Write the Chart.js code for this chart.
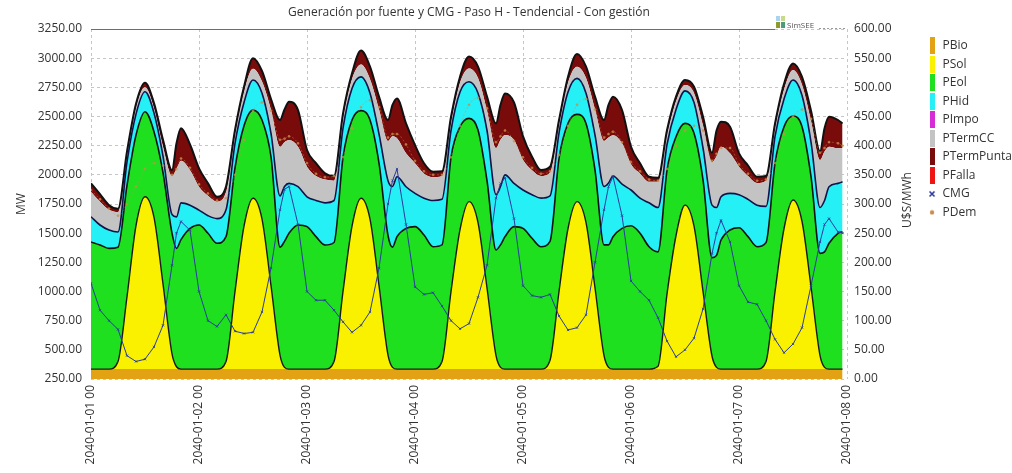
<!DOCTYPE html>
<html lang="es">
<head>
<meta charset="utf-8">
<title>Generación por fuente y CMG</title>
<script src="https://cdn.jsdelivr.net/npm/chart.js@4.4.1/dist/chart.umd.min.js"></script>
<style>
  html, body { margin: 0; padding: 0; background: #fff; }
</style>
</head>
<body>
<canvas id="chart" width="1012" height="473"></canvas>
<script>
// ── Series (MW, hours from 2040-01-01 00) ────────────────────────────────────
const TITLE = 'Generación por fuente y CMG - Paso H - Tendencial - Con gestión';

const HOURS = [
  0, 2, 4, 6, 8, 10, 12, 14, 16, 18, 19, 20, 22,
  24, 26, 28, 30, 32, 34, 36, 38, 40, 42, 43, 44, 46,
  48, 50, 52, 54, 56, 58, 60, 62, 64, 66, 67, 68, 70,
  72, 74, 76, 78, 80, 82, 84, 86, 88, 90, 91, 92, 94,
  96, 98, 100, 102, 104, 106, 108, 110, 112, 114, 115, 116, 118,
  120, 122, 124, 126, 128, 130, 132, 134, 136, 138, 139, 140, 142,
  144, 146, 148, 150, 152, 154, 156, 158, 160, 162, 163, 164, 166, 167
];

const PBIO = [
  335, 335, 335, 335, 335, 335, 335, 335, 335, 335, 335, 335, 335,
  335, 335, 335, 335, 335, 335, 335, 335, 335, 335, 335, 335, 335,
  335, 335, 335, 335, 335, 335, 335, 335, 335, 335, 335, 335, 335,
  335, 335, 335, 335, 335, 335, 335, 335, 335, 335, 335, 335, 335,
  335, 335, 335, 335, 335, 335, 335, 335, 335, 335, 335, 335, 335,
  335, 335, 335, 335, 335, 335, 335, 335, 335, 335, 335, 335, 335,
  335, 335, 335, 335, 335, 335, 335, 335, 335, 335, 335, 335, 335, 335
];

const PSOL = [
  0, 0, 0, 65, 620, 1230, 1477, 1300, 730, 130, 20, 0, 0,
  0, 0, 0, 65, 665, 1225, 1464, 1285, 715, 120, 15, 0, 0,
  0, 0, 0, 65, 665, 1225, 1464, 1285, 715, 120, 15, 0, 0,
  0, 0, 0, 65, 665, 1195, 1435, 1255, 695, 115, 15, 0, 0,
  0, 0, 0, 75, 665, 1205, 1435, 1255, 695, 115, 15, 0, 0,
  0, 0, 0, 25, 645, 1145, 1405, 1225, 665, 110, 15, 0, 0,
  0, 0, 0, 65, 665, 1205, 1449, 1265, 705, 115, 15, 0, 0, 0
];

const PEOL = [
  1089, 1064, 1035, 980, 955, 775, 729, 735, 955, 1035, 1015, 1110, 1206,
  1235, 1164, 1078, 1070, 1060, 860, 756, 850, 1105, 925, 1080, 1164, 1235,
  1221, 1135, 1064, 1020, 1150, 910, 751, 850, 1050, 1025, 1030, 1135, 1206,
  1221, 1149, 1049, 1000, 1150, 882, 714, 794, 920, 906, 1050, 1135, 1221,
  1206, 1121, 1049, 1020, 1140, 901, 748, 851, 1011, 950, 1050, 1135, 1206,
  1228, 1164, 1049, 980, 1061, 847, 701, 796, 956, 845, 960, 1106, 1192,
  1212, 1135, 1049, 1020, 1100, 872, 720, 812, 944, 877, 990, 1078, 1164, 1178
];

const PHID = [
  217, 171, 157, 130, 200, 180, 171, 160, 140, 160, 270, 315, 199,
  128, 151, 212, 230, 210, 200, 258, 230, 200, 440, 470, 428, 328,
  256, 310, 361, 360, 250, 270, 290, 230, 250, 470, 520, 514, 357,
  285, 316, 396, 390, 230, 298, 314, 316, 430, 474, 500, 530, 371,
  329, 374, 416, 390, 220, 269, 309, 259, 299, 500, 530, 520, 379,
  307, 301, 376, 380, 219, 233, 279, 264, 274, 450, 410, 371, 314,
  283, 320, 356, 310, 230, 238, 309, 268, 296, 393, 440, 485, 428, 427
];

const PIMPO = [
  0, 0, 0, 0, 0, 0, 0, 0, 0, 0, 0, 0, 0,
  0, 0, 0, 0, 0, 0, 0, 0, 0, 0, 0, 0, 0,
  0, 0, 0, 0, 0, 0, 0, 0, 0, 0, 0, 0, 0,
  0, 0, 0, 0, 0, 0, 0, 0, 0, 0, 0, 0, 0,
  0, 0, 0, 0, 0, 0, 0, 0, 0, 0, 0, 0, 0,
  0, 0, 0, 0, 0, 0, 0, 0, 0, 0, 0, 0, 0,
  0, 0, 0, 0, 0, 0, 0, 0, 0, 0, 0, 0, 0, 0
];

const PTERMCC = [
  214, 199, 173, 170, 55, 55, 38, 40, 80, 330, 410, 360, 300,
  200, 170, 145, 150, 70, 90, 97, 100, 200, 420, 380, 371, 343,
  258, 210, 200, 170, 80, 80, 105, 120, 210, 340, 430, 329, 286,
  258, 210, 200, 200, 70, 80, 114, 130, 170, 400, 400, 341, 371,
  257, 210, 190, 200, 70, 80, 100, 130, 220, 390, 390, 350, 350,
  220, 210, 180, 220, 80, 70, 50, 80, 190, 370, 440, 429, 343,
  240, 200, 190, 220, 70, 80, 85, 90, 180, 407, 420, 343, 300, 290
];

const PTERMPUNTA = [
  72, 65, 40, 30, 35, 35, 40, 45, 60, 50, 220, 280, 220,
  158, 107, 42, 50, 44, 45, 90, 90, 95, 230, 280, 329, 314,
  143, 110, 53, 40, 47, 50, 120, 107, 110, 180, 270, 342, 257,
  156, 89, 47, 40, 48, 51, 102, 97, 120, 211, 300, 357, 322,
  203, 115, 51, 50, 40, 51, 108, 97, 110, 180, 280, 330, 285,
  151, 89, 44, 35, 44, 40, 43, 55, 78, 80, 220, 215, 228,
  114, 90, 54, 40, 40, 50, 57, 70, 90, 73, 200, 257, 243, 210
];

const PFALLA = PIMPO.slice();

// U$S/MWh
const CMG = [
  164, 118, 100, 85, 40, 30, 34, 55, 92, 195, 250, 270, 255,
  150, 100, 90, 110, 82, 78, 80, 115, 190, 290, 325, 330, 265,
  150, 135, 135, 118, 98, 80, 92, 115, 190, 300, 340, 360, 265,
  158, 145, 148, 125, 100, 86, 95, 140, 195, 310, 335, 345, 275,
  160, 143, 140, 145, 108, 84, 88, 110, 200, 290, 330, 347, 280,
  168, 150, 135, 105, 65, 38, 50, 70, 120, 215, 250, 272, 235,
  160, 132, 128, 100, 68, 45, 60, 88, 160, 235, 265, 275, 252, 250
];

const PDEM = [
  1870, 1790, 1710, 1650, 1750, 1900, 2050, 2100, 2080, 2000, 2050, 2140, 2060,
  1920, 1840, 1780, 1800, 2000, 2300, 2550, 2620, 2550, 2300, 2310, 2330, 2270,
  2100, 2010, 1980, 1990, 2150, 2400, 2580, 2640, 2580, 2320, 2350, 2350, 2260,
  2120, 2030, 2000, 2000, 2150, 2420, 2600, 2660, 2570, 2280, 2330, 2380, 2290,
  2150, 2060, 2010, 2030, 2170, 2420, 2600, 2650, 2560, 2320, 2350, 2370, 2280,
  2110, 2030, 1960, 1950, 2050, 2250, 2380, 2420, 2380, 2120, 2180, 2230, 2230,
  2090, 2010, 1950, 1960, 2100, 2350, 2500, 2560, 2480, 2190, 2230, 2280, 2270, 2250
];

// ── Axis ticks ───────────────────────────────────────────────────────────────
const DAY_TICKS = [0, 24, 48, 72, 96, 120, 144, 168];
const DAY_LABELS = [
  '2040-01-01 00', '2040-01-02 00', '2040-01-03 00', '2040-01-04 00',
  '2040-01-05 00', '2040-01-06 00', '2040-01-07 00', '2040-01-08 00'
];
const MW_TICKS = [250, 500, 750, 1000, 1250, 1500, 1750, 2000, 2250, 2500, 2750, 3000, 3250];
const USD_TICKS = [0, 50, 100, 150, 200, 250, 300, 350, 400, 450, 500, 550, 600];

// ── Helpers ──────────────────────────────────────────────────────────────────
const NONE = 'rgba(0,0,0,0)';
const points = vals => HOURS.map((h, i) => ({ x: h, y: vals[i] }));

function area(label, values, color, border, width) {
  return {
    label,
    data: points(values),
    yAxisID: 'y',
    stack: 'gen',
    order: 1,
    backgroundColor: color,
    borderColor: border || NONE,
    borderWidth: width || 1,
    fill: '-1',
    pointRadius: 0,
    cubicInterpolationMode: 'monotone',
  };
}

function barMark(color) {
  const c = document.createElement('canvas');
  c.width = 5; c.height = 17;
  const g = c.getContext('2d');
  g.fillStyle = color;
  g.fillRect(0, 0, 5, 17);
  return c;
}

function crossMark(color) {
  const c = document.createElement('canvas');
  c.width = 8; c.height = 8;
  const g = c.getContext('2d');
  g.strokeStyle = color;
  g.lineWidth = 1.6;
  g.beginPath();
  g.moveTo(1.5, 1.5); g.lineTo(6.5, 6.5);
  g.moveTo(6.5, 1.5); g.lineTo(1.5, 6.5);
  g.stroke();
  return c;
}

function dotMark(color) {
  const c = document.createElement('canvas');
  c.width = 6; c.height = 6;
  const g = c.getContext('2d');
  g.fillStyle = color;
  g.beginPath();
  g.arc(3, 3, 2.2, 0, Math.PI * 2);
  g.fill();
  return c;
}

// ── Datasets ─────────────────────────────────────────────────────────────────
const COLORS = {
  bio: '#E3A214', sol: '#F9F100', eol: '#1EE01E', hid: '#25F0F6',
  impo: '#D62BD6', cc: '#C3C3C3', punta: '#7A0B0B', falla: '#EE1414',
  cmg: '#2A3A9E', dem: '#C98E4E',
};

const bio = area('PBio', PBIO, COLORS.bio);
bio.fill = 'origin';

const datasets = [
  bio,
  area('PSol', PSOL, COLORS.sol, '#1a1a1a', 1.4),
  area('PEol', PEOL, COLORS.eol, '#111', 1.6),
  area('PHid', PHID, COLORS.hid, '#12124a', 1.6),
  area('PImpo', PIMPO, COLORS.impo),
  area('PTermCC', PTERMCC, COLORS.cc),
  area('PTermPunta', PTERMPUNTA, COLORS.punta, '#111', 2),
  area('PFalla', PFALLA, COLORS.falla),
  {
    label: 'CMG',
    data: points(CMG),
    yAxisID: 'y1',
    order: 0,
    borderColor: COLORS.cmg,
    borderWidth: 1,
    pointStyle: 'crossRot',
    pointRadius: 1.6,
    pointBorderColor: COLORS.cmg,
    pointBorderWidth: 0.8,
    fill: false,
    tension: 0,
  },
  {
    label: 'PDem',
    data: points(PDEM),
    yAxisID: 'y',
    stack: 'dem',
    order: 0,
    borderColor: 'rgba(201,142,78,0.55)',
    borderWidth: 0.8,
    borderDash: [2, 2],
    pointRadius: 1,
    pointBackgroundColor: 'rgba(201,142,78,0.7)',
    pointBorderColor: 'rgba(201,142,78,0.7)',
    fill: false,
    cubicInterpolationMode: 'monotone',
  },
];

const LEGEND_MARKS = [
  barMark(COLORS.bio), barMark(COLORS.sol), barMark(COLORS.eol), barMark(COLORS.hid),
  barMark(COLORS.impo), barMark(COLORS.cc), barMark(COLORS.punta), barMark(COLORS.falla),
  crossMark(COLORS.cmg), dotMark(COLORS.dem),
];

// ── Frame, axis titles and the SimSEE tag ────────────────────────────────────
const decorations = {
  id: 'decorations',
  afterDraw(chart) {
    const { ctx, chartArea: a, scales } = chart;
    const tagX = a.right - 71;
    const midY = (a.top + a.bottom) / 2;
    ctx.save();

    ctx.strokeStyle = '#6e6e6e';
    ctx.lineWidth = 1;
    ctx.beginPath();
    ctx.moveTo(a.left, a.top + 0.5);
    ctx.lineTo(tagX - 1, a.top + 0.5);
    ctx.stroke();

    ctx.fillStyle = '#a8d4ec'; ctx.fillRect(tagX, a.top - 13, 4, 5);
    ctx.fillStyle = '#c9d98a'; ctx.fillRect(tagX + 5, a.top - 13, 4, 5);
    ctx.fillStyle = '#8c9a2c'; ctx.fillRect(tagX, a.top - 7, 4, 6);
    ctx.fillStyle = '#4c9c7c'; ctx.fillRect(tagX + 5, a.top - 7, 4, 6);
    ctx.fillStyle = '#555';
    ctx.font = '8px "Open Sans", sans-serif';
    ctx.textBaseline = 'alphabetic';
    ctx.fillText('SimSEE', tagX + 11, a.top - 1);
    ctx.setLineDash([2, 2]);
    ctx.strokeStyle = '#9a9a9a';
    ctx.beginPath();
    ctx.moveTo(tagX + 43, a.top - 0.5);
    ctx.lineTo(a.right, a.top - 0.5);
    ctx.stroke();
    ctx.setLineDash([]);

    ctx.fillStyle = '#333';
    ctx.font = '12px "Open Sans", sans-serif';
    ctx.textAlign = 'center';
    ctx.textBaseline = 'middle';
    ctx.save();
    ctx.translate(scales.y.left + 22, midY);
    ctx.rotate(-Math.PI / 2);
    ctx.fillText('MW', 0, 0);
    ctx.restore();
    ctx.translate(scales.y1.left + 61, midY - 4);
    ctx.rotate(-Math.PI / 2);
    ctx.fillText('U$S/MWh', 0, 0);

    ctx.restore();
  }
};

// ── Chart ────────────────────────────────────────────────────────────────────
Chart.defaults.font.family = '"Open Sans", "Noto Sans", sans-serif';
Chart.defaults.font.size = 12;
Chart.defaults.color = '#333';

const GRID = '#c6c6c6';

new Chart(document.getElementById('chart'), {
  type: 'line',
  data: { datasets },
  plugins: [decorations],
  options: {
    responsive: false,
    animation: false,
    layout: { padding: { left: 0, right: -10, top: 0, bottom: 0 } },
    plugins: {
      title: {
        display: true,
        text: TITLE,
        fullSize: false,
        color: '#333',
        font: { size: 12, weight: 'normal' },
        padding: { top: 5, bottom: 9.6 },
      },
      legend: {
        position: 'right',
        align: 'start',
        title: { display: true, text: '', padding: { top: 19, bottom: 0 } },
        labels: {
          usePointStyle: true,
          boxWidth: 9,
          padding: 6.5,
          color: '#333',
          generateLabels: chart => chart.data.datasets.map((ds, i) => ({
            text: ds.label,
            pointStyle: LEGEND_MARKS[i],
            fillStyle: NONE,
            strokeStyle: NONE,
            lineWidth: 0,
            hidden: false,
            datasetIndex: i,
            fontColor: '#333',
          })),
        },
      },
      tooltip: { enabled: false },
      filler: { drawTime: 'beforeDatasetsDraw' },
    },
    scales: {
      x: {
        type: 'linear',
        min: 0,
        max: 168,
        afterBuildTicks: s => { s.ticks = DAY_TICKS.map(v => ({ value: v })); },
        afterFit: s => { s.height = 94; },
        ticks: {
          autoSkip: false,
          maxRotation: 90,
          minRotation: 90,
          padding: 6,
          callback: (v, i) => DAY_LABELS[i],
        },
        grid: { color: GRID, drawTicks: false },
        border: { display: false, dash: [3, 3] },
      },
      y: {
        stacked: true,
        min: 250,
        max: 3250,
        afterBuildTicks: s => { s.ticks = MW_TICKS.map(v => ({ value: v })); },
        afterFit: s => { s.width = 91; },
        ticks: { autoSkip: false, padding: 9, callback: v => v.toFixed(2) },
        grid: { color: GRID, drawTicks: false },
        border: { display: false, dash: [3, 3] },
      },
      y1: {
        position: 'right',
        min: 0,
        max: 600,
        afterBuildTicks: s => { s.ticks = USD_TICKS.map(v => ({ value: v })); },
        afterFit: s => { s.width = 74; },
        ticks: { autoSkip: false, padding: 7, callback: v => v.toFixed(2) },
        grid: { drawOnChartArea: false, drawTicks: false },
        border: { display: false },
      },
    },
  },
});
</script>
</body>
</html>
